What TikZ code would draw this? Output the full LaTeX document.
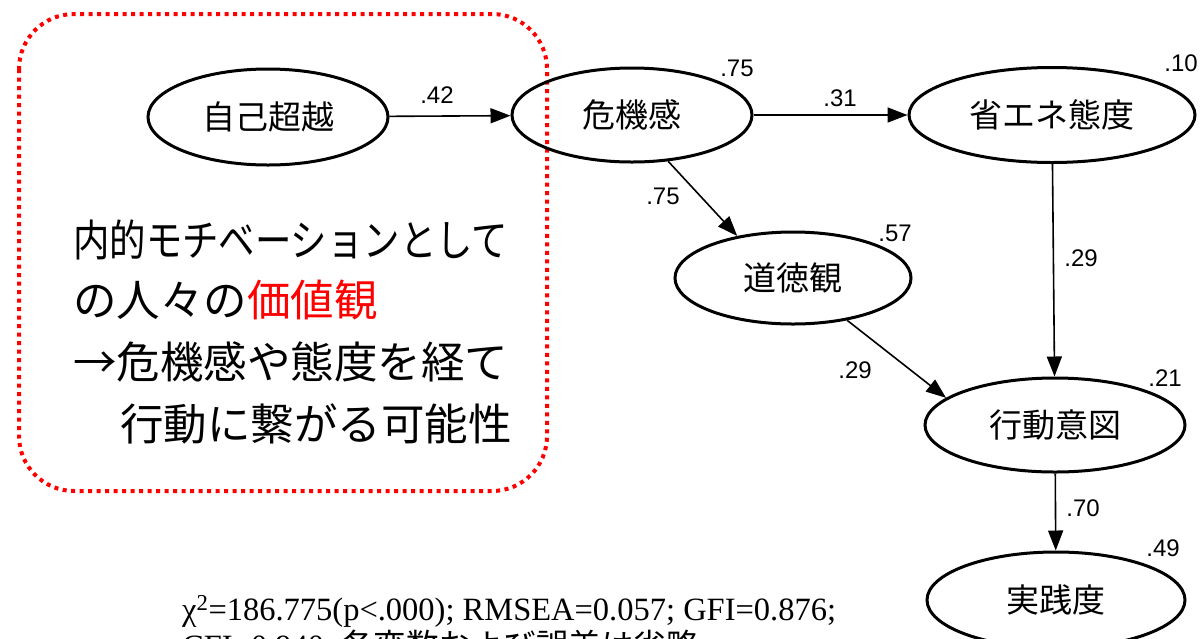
\documentclass[tikz,border=0pt]{standalone}
\usepackage{fontspec}
\usetikzlibrary{shapes.geometric,arrows.meta}
\newfontfamily\jp{Noto Sans CJK JP}
\newfontfamily\numf{Liberation Sans}
\newfontfamily\tms{Liberation Serif}
\begin{document}
\begin{tikzpicture}[x=1pt,y=-1pt,
  var/.style={ellipse,draw,line width=3pt,inner sep=0pt,font=\jp\fontsize{33}{33}\selectfont},
  path/.style={line width=1.6pt,-{Triangle[length=20pt,width=15pt]}},
  coef/.style={font=\numf\fontsize{24}{24}\selectfont,inner sep=0pt},
  boxtxt/.style={anchor=west,inner sep=0pt,font=\jp\fontsize{43.5}{43.5}\selectfont},
  fittxt/.style={anchor=base west,inner sep=0pt,font=\tms\fontsize{32.5}{37}\selectfont}]
\useasboundingbox (0,0) rectangle (1202,638);
% red dotted box
\draw[red,line width=4pt,dash pattern=on 4pt off 4.5pt,rounded corners=55pt] (19,14) rectangle (547,491);
% variables
\node[var,minimum width=240pt,minimum height=96pt] (jiko) at (268,117) {自己超越};
\node[var,minimum width=240pt,minimum height=94pt] (kiki) at (632,115) {危機感};
\node[var,minimum width=286pt,minimum height=95pt] (shoene) at (1052,115) {省エネ態度};
\node[var,minimum width=236pt,minimum height=92pt] (dotoku) at (793,278) {道徳観};
\node[var,minimum width=260pt,minimum height=94pt] (koudou) at (1055,425) {行動意図};
\node[var,minimum width=258pt,minimum height=96pt] (jissen) at (1056,600) {実践度};
% paths
\draw[path] (jiko) -- (kiki);
\draw[path] (kiki) -- (shoene);
\draw[path] (kiki.-52) -- (dotoku.143);
\draw[path] (shoene) -- (koudou);
\draw[path] (dotoku.-38) -- (koudou.166);
\draw[path] (koudou) -- (jissen);
% coefficients
\node[coef] (c1) at (437,95) {.42};
\node[coef] (c2) at (840,98) {.31};
\node[coef] (c3) at (663,196) {.75};
\node[coef] (c4) at (1081,258) {.29};
\node[coef] (c5) at (855,370) {.29};
\node[coef] (c6) at (1083,508) {.70};
% R squared
\node[coef] (r1) at (737,68) {.75};
\node[coef] (r2) at (1181,63) {.10};
\node[coef] (r3) at (895,233) {.57};
\node[coef] (r4) at (1165,378) {.21};
\node[coef] (r5) at (1163,548) {.49};
% box text
\node[boxtxt] (t1) at (73,240) {\scalebox{0.837}[1]{内的モチベーションとして}};
\node[boxtxt] (t2) at (73,300) {の人々の\textcolor{red}{価値観}};
\node[boxtxt] (t3) at (73,362) {→危機感や態度を経て};
\node[boxtxt] (t4) at (120,424) {行動に繋がる可能性};
% fit indices
\node[fittxt] (fit1) at (182,620) {χ\textsuperscript{2}=186.775(p<.000); RMSEA=0.057; GFI=0.876;};
\node[fittxt] (fit2) at (182,657) {CFI=0.940; {\jp 各変数および誤差は省略}};
\end{tikzpicture}
\end{document}
